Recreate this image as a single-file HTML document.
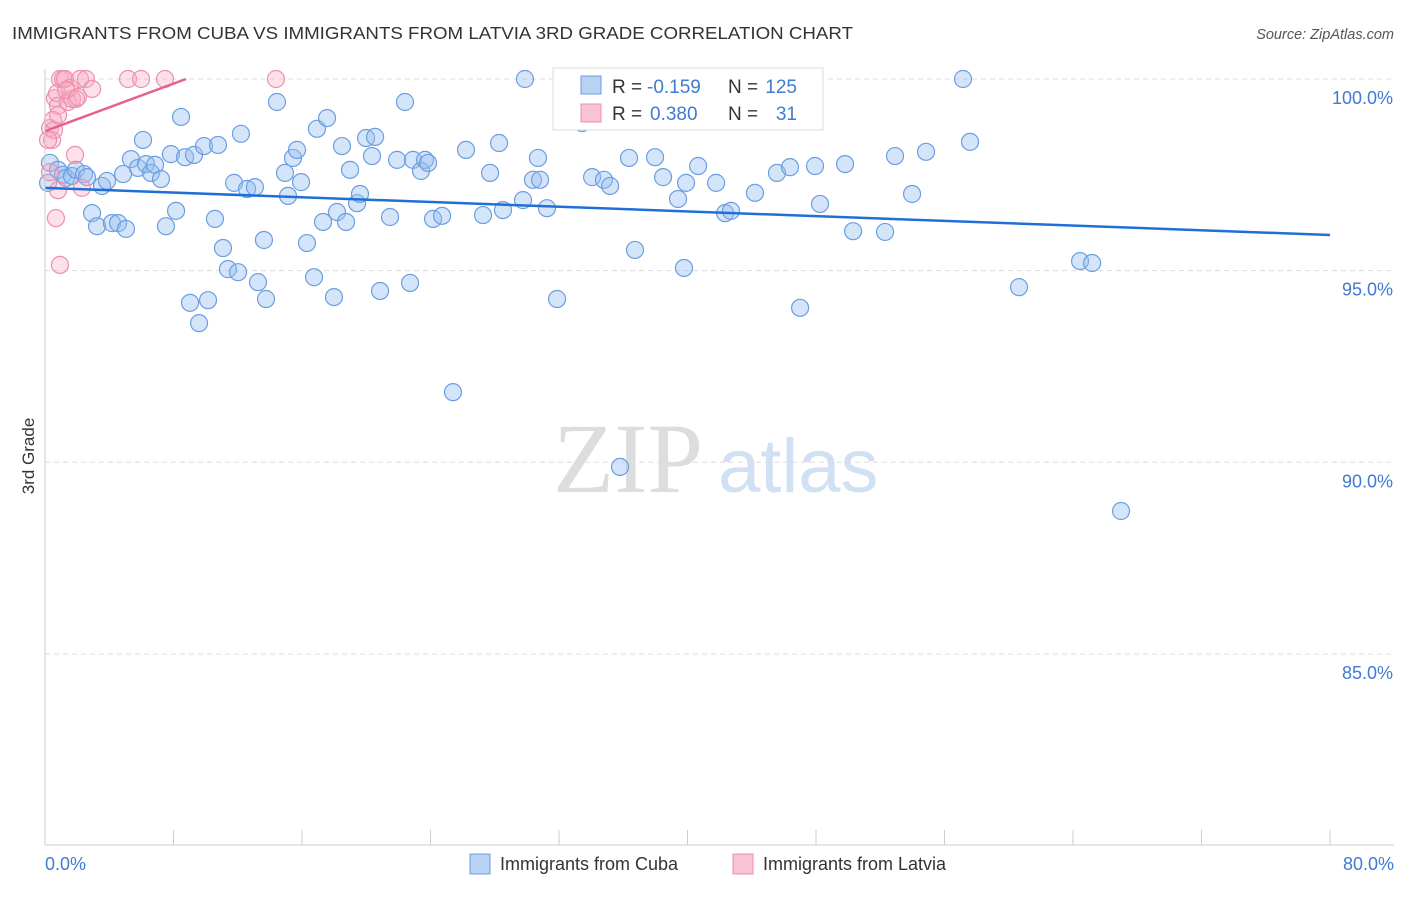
<!DOCTYPE html>
<html><head><meta charset="utf-8"><style>
body{margin:0;background:#fff;font-family:"Liberation Sans",sans-serif}
#c{position:relative;width:1406px;height:892px}
</style></head><body>
<div id="c">
<svg id="s" width="1406" height="892" xmlns="http://www.w3.org/2000/svg">
<text x="12" y="39" font-size="17.5" fill="#333" textLength="841" lengthAdjust="spacingAndGlyphs">IMMIGRANTS FROM CUBA VS IMMIGRANTS FROM LATVIA 3RD GRADE CORRELATION CHART</text>
<text x="1394" y="39" font-size="14.5" fill="#555" font-style="italic" text-anchor="end">Source: ZipAtlas.com</text>
<text x="34" y="456" font-size="17" fill="#333" transform="rotate(-90 34 456)" text-anchor="middle">3rd Grade</text>
<text x="553" y="492" font-size="100" fill="#ddd" font-family="Liberation Serif,serif">ZIP</text>
<text x="718" y="492" font-size="76" fill="#d2e0f4">atlas</text>
<g id="grid"></g><g id="pts"></g><g id="trend"></g>
<line x1="45" y1="69" x2="45" y2="845" stroke="#ccc"/>
<line x1="45" y1="845" x2="1394" y2="845" stroke="#ccc"/>
<g id="xt"></g>
<text x="45" y="870" font-size="18" fill="#3f7ad3">0.0%</text>
<text x="1394" y="870" font-size="18" fill="#3f7ad3" text-anchor="end">80.0%</text>
<g>
<rect x="553" y="68" width="270" height="62" fill="#fff" stroke="#ddd"/>
<rect x="581" y="76" width="20" height="18" fill="#b8d2f4" stroke="#6b9ee0"/>
<rect x="581" y="104" width="20" height="18" fill="#f8c3d3" stroke="#ee90ab"/>
<text x="612" y="93" font-size="19" fill="#333">R =</text>
<text x="647" y="93" font-size="19" fill="#3f7ad3">-0.159</text>
<text x="728" y="93" font-size="19" fill="#333">N =</text>
<text x="797" y="93" font-size="19" fill="#3f7ad3" text-anchor="end">125</text>
<text x="612" y="120" font-size="19" fill="#333">R =</text>
<text x="650" y="120" font-size="19" fill="#3f7ad3">0.380</text>
<text x="728" y="120" font-size="19" fill="#333">N =</text>
<text x="797" y="120" font-size="19" fill="#3f7ad3" text-anchor="end">31</text>
</g>
<g>
<rect x="470" y="854" width="20" height="20" fill="#b8d2f4" stroke="#6b9ee0"/>
<text x="500" y="870" font-size="18" fill="#333">Immigrants from Cuba</text>
<rect x="733" y="854" width="20" height="20" fill="#f8c3d3" stroke="#ee90ab"/>
<text x="763" y="870" font-size="18" fill="#333">Immigrants from Latvia</text>
</g>
</svg></div>
<script>
const yTicks=[100,95,90,85];
const yTickLabels=["100.0%","95.0%","90.0%","85.0%"];
const cubaX=[.19,.31,.81,1.12,1.31,1.68,1.93,2.43,2.61,2.93,3.24,3.55,3.86,4.17,4.55,4.86,5.04,5.35,5.79,6.10,6.29,6.60,6.85,7.22,7.53,7.84,8.16,8.47,8.72,9.03,9.28,9.59,9.90,10.15,10.58,10.77,11.08,11.39,11.77,12.02,12.20,12.58,13.07,13.26,13.63,13.76,14.44,14.94,15.13,15.44,15.69,15.94,16.31,16.75,16.93,17.31,17.56,17.99,18.18,18.49,18.74,18.99,19.43,19.61,19.99,20.36,20.55,20.86,21.48,21.92,22.41,22.73,22.91,23.41,23.66,23.85,24.16,24.72,25.40,26.21,27.27,27.71,28.27,28.51,29.76,29.88,30.38,30.69,30.82,31.25,31.88,33.43,34.06,34.80,35.18,35.80,36.36,36.73,37.98,38.48,39.41,39.78,39.91,40.66,41.78,42.34,42.71,44.20,45.57,46.38,47.01,47.94,48.25,49.81,50.31,52.30,52.92,53.98,54.85,57.15,57.59,60.64,64.44,65.19,66.99];
const cubaY=[97.29,97.81,97.63,97.50,97.42,97.47,97.63,97.52,97.44,96.50,96.16,97.21,97.34,96.24,96.24,97.52,96.09,97.91,97.68,98.41,97.78,97.55,97.76,97.39,96.16,98.04,96.56,99.01,97.96,94.16,98.02,93.63,98.25,94.23,96.35,98.28,95.59,95.04,97.29,94.96,98.57,97.13,97.18,94.70,95.80,94.26,99.40,97.55,96.95,97.94,98.15,97.31,95.72,94.83,98.70,96.27,98.98,94.31,96.53,98.25,96.27,97.63,96.76,97.00,98.46,97.99,98.49,94.47,96.40,97.89,99.40,94.68,97.89,97.60,97.89,97.81,96.35,96.43,91.83,98.15,96.45,97.55,98.33,96.58,96.84,100,97.37,97.94,97.37,96.63,94.26,98.85,97.44,97.37,97.21,89.88,97.94,95.54,97.96,97.44,96.87,95.07,97.29,97.73,97.29,96.50,96.56,97.03,97.55,97.70,94.03,97.73,96.74,97.78,96.03,96.01,97.99,97.00,98.10,100,98.36,94.57,95.25,95.20,88.73];
const latviaX=[.31,.44,.56,.62,.75,.81,.81,.93,1.12,1.25,1.43,1.56,1.68,1.87,1.93,2.18,2.30,2.55,2.93,.68,.93,5.17,5.98,7.47,14.38,.31,.50,.19,1.31,2.05,.81];
const latviaY=[98.72,98.41,98.67,99.50,99.63,99.30,97.10,100,100,100,99.40,99.77,99.48,98.02,99.48,100,97.16,100,99.74,96.37,95.15,100,100,100,100,97.57,98.93,98.41,99.71,99.53,99.06];
const cubaTrendX=[0,80];
const cubaTrendY=[97.16,95.93];
const latviaTrendX=[0,8.78];
const latviaTrendY=[98.64,100];
const NS="http://www.w3.org/2000/svg";
const X=v=>45+v*(1285/80);
const Y=v=>79+(100-v)*38.33;
function mk(t,a,p){const e=document.createElementNS(NS,t);for(const k in a)e.setAttribute(k,a[k]);p.appendChild(e);return e;}
const grid=document.getElementById('grid');
yTicks.forEach((t,i)=>{
  const l=mk('line',{x1:45,x2:1394,y1:Y(t),y2:Y(t),stroke:'#ddd','stroke-dasharray':'5,4'},grid);
  
  
  const tx=mk('text',{x:1393,y:Y(t)+25,'font-size':18,fill:'#3f7ad3','text-anchor':'end'},grid);
  tx.textContent=yTickLabels[i];
  
  
});
const xt=document.getElementById('xt');
for(let i=0;i<=10;i++){
  const l=mk('line',{x1:X(i*8),x2:X(i*8),y1:830,y2:845,stroke:'#ccc'},xt);
  
  
}
const pts=document.getElementById('pts');
cubaX.forEach((x,i)=>{
  const c=mk('circle',{cx:X(x),cy:Y(cubaY[i]),r:8.5,fill:'rgba(150,190,240,0.4)',stroke:'#6b9ee0','stroke-width':1.2},pts);
  
  
});
latviaX.forEach((x,i)=>{
  const c=mk('circle',{cx:X(x),cy:Y(latviaY[i]),r:8.5,fill:'rgba(245,170,195,0.35)',stroke:'#ee90ab','stroke-width':1.2},pts);
  
  
});
const tr=document.getElementById('trend');
const t1=mk('line',{x1:X(cubaTrendX[0]),y1:Y(cubaTrendY[0]),x2:X(cubaTrendX[1]),y2:Y(cubaTrendY[1]),stroke:'#1f6fd6','stroke-width':2.5},tr);


const t2=mk('line',{x1:X(latviaTrendX[0]),y1:Y(latviaTrendY[0]),x2:X(latviaTrendX[1]),y2:Y(latviaTrendY[1]),stroke:'#e8608a','stroke-width':2.5},tr);


</script>
</body></html>
